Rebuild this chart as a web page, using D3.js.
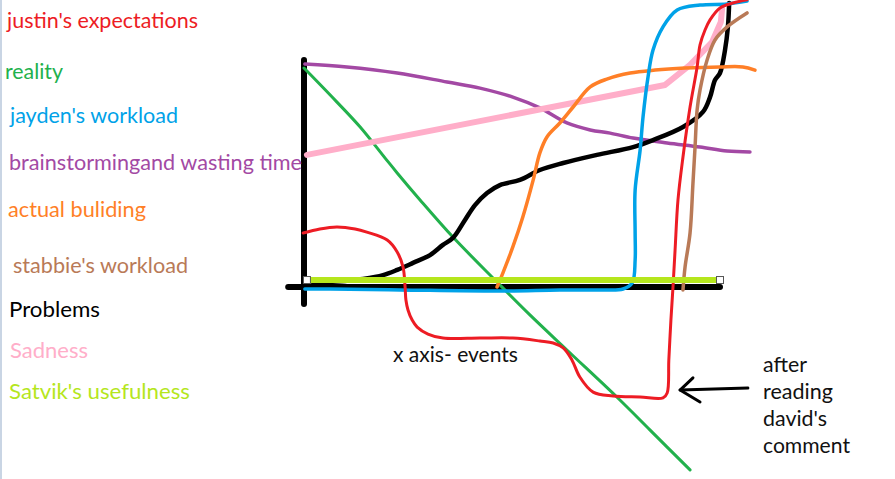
<!DOCTYPE html>
<html><head><meta charset="utf-8">
<script src="https://cdn.jsdelivr.net/npm/d3@7"></script>
<style>html,body{margin:0;padding:0;background:#fff;overflow:hidden}</style>
</head><body>
<svg id="c" width="895" height="479"></svg>
<script>
// ---- data (x: events, y: level; 0 = axes) ----
const legendLabels = ["justin's expectations", "reality", "jayden's workload", "brainstormingand wasting time",
  "actual buliding", "stabbie's workload", "Problems", "Sadness", "Satvik's usefulness"];
const xAxisLabel = "x axis- events";
const annotationLines = ["after", "reading", "david's", "comment"];

const justinsExpectations = [[-0.2,24.0],[3.8,25.8],[7.9,26.7],[12.3,25.8],[15.1,24.4],[20.0,20.9],[22.4,15.6],[23.8,8.9],
  [24.3,0],[24.5,-5.8],[25.0,-10.2],[26.0,-14.7],[27.2,-17.8],[29.8,-20.9],[33.4,-22.7],[42.3,-22.7],[50.2,-22.7],
  [56.7,-24.0],[59.9,-24.9],[62.3,-27.1],[64.4,-32.4],[66.3,-40.0],[69.5,-46.7],[74.3,-48.4],[80.8,-48.9],[86.3,-49.3],
  [87.3,-47.1],[87.7,-32.4],[88.2,-14.7],[88.7,0],[89.2,16.4],[89.9,38.7],[91.1,57.8],[92.8,80.0],[94.5,97.8],
  [95.2,107.6],[96.4,114.2],[97.6,118.7],[100,124.0],[103.1,126.2],[106.5,127.6]];
const reality = [[0,97.3],[6.3,85.3],[13.5,71.1],[19.5,57.3],[22.4,50.7],[27.9,38.7],[35.8,22.2],[46.4,2.2],
  [54.3,-12.4],[63.2,-28.0],[75.2,-48.9],[83.2,-63.6],[92.8,-81.3]];
const jaydensWorkload = [[0.2,-0.9],[6.3,-0.9],[23.1,-1.3],[47.1,-1.8],[61.5,-1.3],[71.2,-1.3],[76.7,-0.9],[78.9,1.8],
  [79.6,12.0],[79.6,24.0],[79.6,43.1],[80.8,60.9],[81.5,75.6],[82.7,93.3],[83.9,105.3],[86.3,115.6],[89.7,123.1],
  [95.2,125.3],[101.7,125.8],[106.5,127.1]];
const brainstorming = [[0.2,99.1],[10.3,97.8],[22.4,95.1],[34.4,91.1],[42.3,88.4],[50.2,84.4],[56.7,79.6],[63.2,72.9],
  [68.8,69.8],[73.6,68.4],[79.1,66.2],[87.3,64.0],[95.2,62.2],[101.7,60.4],[107.2,60.0]];
const actualBuilding = [[46.4,0],[47.8,6.2],[50.2,17.8],[52.6,31.1],[55.1,47.6],[56.7,59.6],[58.4,66.7],[61.5,72.9],
  [64.7,80.0],[68.8,88.9],[72.8,92.4],[78.4,95.1],[84.4,96.4],[91.6,97.3],[100,97.8],[105.5,97.8],[108.4,96.4]];
const stabbiesWorkload = [[91.1,-1.3],[91.6,8.9],[92.8,24.0],[93.5,46.2],[94.0,62.2],[94.5,78.7],[95.2,87.6],
  [96.9,100.9],[98.8,109.8],[101.7,115.6],[106.5,121.8]];
const problems = [[0.2,0],[4.6,1.8],[9.9,2.7],[14.2,3.6],[19.0,5.3],[22.4,7.6],[26.2,10.7],[30.3,14.2],[33.4,18.7],
  [35.8,21.8],[38.7,29.8],[41.1,36.4],[44.0,41.8],[47.1,45.3],[51.9,47.6],[56.7,52.0],[62.3,55.1],[70.4,58.7],
  [79.1,62.2],[83.9,65.3],[91.1,71.1],[95.9,77.8],[97.6,84.4],[98.8,92.0],[100,95.1],[101.2,105.3],[101.9,115.6],[102.2,126.2]];
const sadness = [[0.7,58.7],[86.8,89.8],[92.8,98.7],[98.1,108.9],[100.2,117.8],[100.5,123.6]];
const satviksUsefulness = [[0.7,3.1],[100,3.1]];
const arrowShaft = [[106.7,-44.9],[90.4,-45.8]];
const arrowHead = [[93.5,-40.4],[90.4,-45.8],[95.2,-51.1]];
const yAxisExtent = [[0,-7.6],[0,100.9]];
const xAxisExtent = [[-3.8,0],[100,0]];

// ---- styles ----
const colors = {red:"#ed1c24", green:"#22b14c", blue:"#00a2e8", purple:"#a349a4", orange:"#ff7f27",
  brown:"#b97a57", black:"#000", pink:"#ffaec9", lime:"#b5e61d"};
const legendColors = [colors.red, colors.green, colors.blue, colors.purple, colors.orange, colors.brown, colors.black, colors.pink, colors.lime];
const legendLayout = [[7,28,191],[5,79,58],[10,123,168],[9,170,293],[8,217,138],[13,273,175],[9,317,91],[10,358,78],[9,399,181]];

const svg = d3.select("#c");
const x = d3.scaleLinear().domain([0,100]).range([304,720]);
const y = d3.scaleLinear().domain([0,100]).range([287,62]);

svg.append("rect").attr("x",0).attr("y",0).attr("width",895).attr("height",479).attr("fill","#fff");
svg.append("rect").attr("x",0).attr("y",0).attr("width",2).attr("height",479).attr("fill","#c9d5e4");

const lineLin = d3.line().x(d=>x(d[0])).y(d=>y(d[1]));
const lineCurve = d3.line().x(d=>x(d[0])).y(d=>y(d[1])).curve(d3.curveCatmullRom.alpha(0.5));

function draw(data, color, w, gen){
  svg.append("path").datum(data).attr("d", gen||lineCurve).attr("fill","none")
    .attr("stroke",color).attr("stroke-width",w).attr("stroke-linecap","round").attr("stroke-linejoin","round");
}

// axes
draw(yAxisExtent, "#000", 6, lineLin);
draw(xAxisExtent, "#000", 6, lineLin);

draw(reality, colors.green, 3);
draw(brainstorming, colors.purple, 3.5);
draw(sadness, colors.pink, 6, lineLin);
draw(problems, colors.black, 4.5);
draw(actualBuilding, colors.orange, 3.5);
draw(jaydensWorkload, colors.blue, 3.5);
draw(stabbiesWorkload, colors.brown, 3.5);
draw(justinsExpectations, colors.red, 3);
draw(satviksUsefulness, colors.lime, 6, lineLin);

// endpoint handles
svg.selectAll("rect.h").data(satviksUsefulness).enter().append("rect").attr("class","h")
  .attr("x",d=>x(d[0])-3.5).attr("y",d=>y(d[1])-3.5).attr("width",7).attr("height",7)
  .attr("fill","#fff").attr("stroke","#555").attr("stroke-width",1);

// arrow
draw(arrowShaft, "#000", 3, lineLin);
draw(arrowHead, "#000", 3, lineLin);

// legend text
const font = "Lato, 'Open Sans', sans-serif";
svg.selectAll("text.lg").data(legendLabels).enter().append("text").attr("class","lg")
  .attr("x",(d,i)=>legendLayout[i][0]).attr("y",(d,i)=>legendLayout[i][1])
  .attr("textLength",(d,i)=>legendLayout[i][2]).attr("lengthAdjust","spacingAndGlyphs")
  .attr("fill",(d,i)=>legendColors[i]).style("font-family",font).style("font-size","22px").text(d=>d);

svg.append("text").attr("x",393).attr("y",362).attr("textLength",125).attr("lengthAdjust","spacingAndGlyphs")
  .attr("fill","#111").style("font-family",font).style("font-size","22px").text(xAxisLabel);

const annW = [44,70,64,87];
svg.selectAll("text.an").data(annotationLines).enter().append("text").attr("class","an")
  .attr("x",763).attr("y",(d,i)=>372+i*27).attr("textLength",(d,i)=>annW[i]).attr("lengthAdjust","spacingAndGlyphs")
  .attr("fill","#111").style("font-family",font).style("font-size","22px").text(d=>d);
</script>
</body></html>
